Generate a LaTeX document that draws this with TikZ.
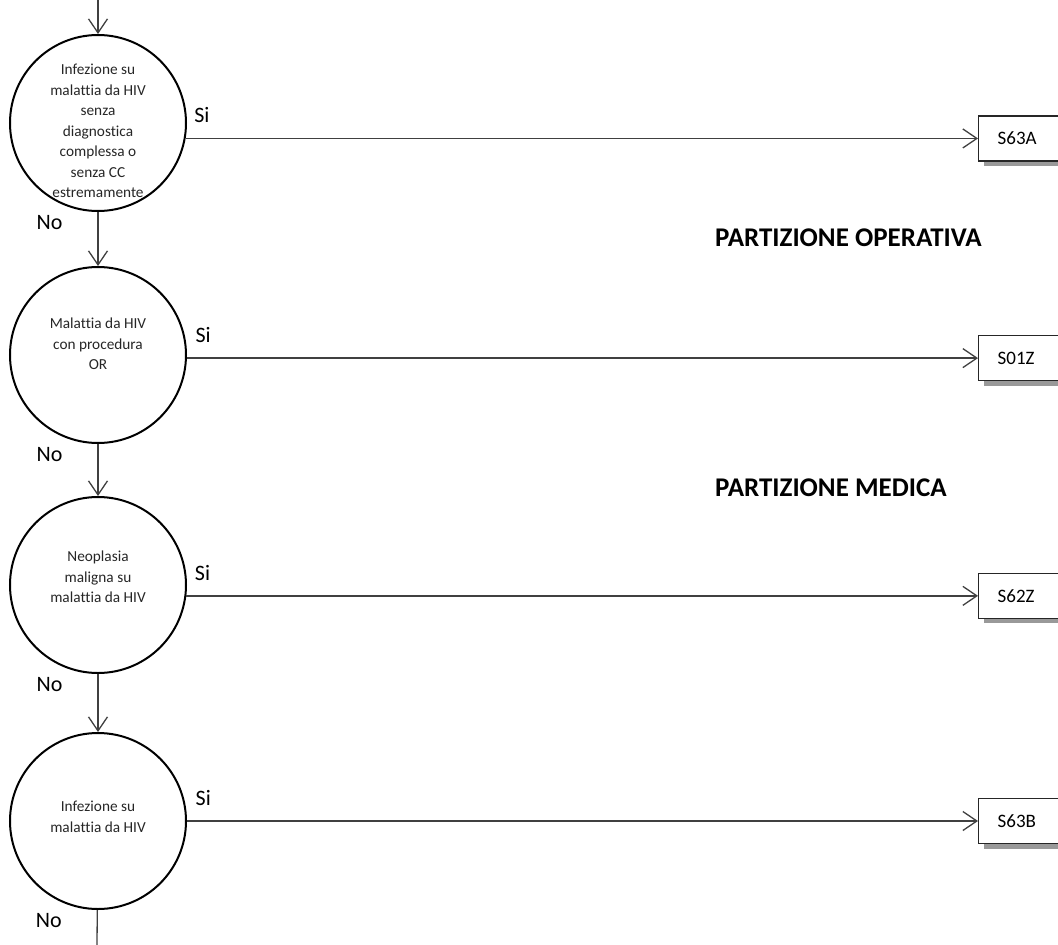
\documentclass[tikz,border=0pt]{standalone}
\usepackage{fontspec}
\setmainfont{Carlito}[Ligatures=NoCommon]
\usepackage{tikz}
\usetikzlibrary{arrows.meta, positioning, shadows}

\begin{document}
\begin{tikzpicture}[x=1pt, y=1pt, decision/.style={circle,draw=black,line width=2pt,minimum size=176pt,inner sep=0pt}, outcome/.style={rectangle,draw=black!85,line width=1.3pt,fill=white,minimum height=45pt,text width=70pt,inner xsep=19pt,align=left,anchor=west,font=\fontsize{19}{21}\selectfont,drop shadow={shadow xshift=5pt,shadow yshift=-5pt,fill=black!40,opacity=1}}, note/.style={align=center,font=\fontsize{15.3}{20.5}\selectfont,text=black!85}, si/.style={at start,anchor=south west,inner sep=0pt,xshift=8pt,yshift=15pt,font=\fontsize{22}{24}\selectfont}, no/.style={at start,anchor=north east,inner sep=0pt,xshift=-35pt,yshift=-3pt,font=\fontsize{22}{24}\selectfont}, part/.style={anchor=west,inner sep=0pt,font=\bfseries\fontsize{27}{30}\selectfont}, flow/.style={->,draw=black!75,line width=1.3pt}, link/.style={draw=black!75,line width=1.3pt}, >={Straight Barb[length=14pt,width=19pt]}, node distance=54pt]
        \useasboundingbox (0,0) rectangle (1058,-945);
        \coordinate (entry) at (98,0);
        \coordinate (xout) at (978,0);
        \coordinate (exit) at (97,-945);
        \node[decision] (c1) at (98,-123) {};
        \node[decision, below=of c1] (c2) {};
        \node[decision, below=52pt of c2] (c3) {};
        \node[decision, below=58pt of c3] (c4) {};
        \node[note] (t1) at ([yshift=-8pt]c1.center) {Infezione su\\malattia da HIV\\senza\\diagnostica\\complessa o\\senza CC\\estremamente};
        \node[note] (t2) at ([yshift=11pt]c2.center) {Malattia da HIV\\con procedura\\OR};
        \node[note] (t3) at ([yshift=8pt]c3.center) {Neoplasia\\maligna su\\malattia da HIV};
        \node[note] (t4) at ([yshift=4pt]c4.center) {Infezione su\\malattia da HIV};
        \node[outcome] (b1) at (c1.-10 -| xout) {S63A};
        \node[outcome] (b2) at (c2.-2 -| xout) {S01Z};
        \node[outcome] (b3) at (c3.-7 -| xout) {S62Z};
        \node[outcome] (b4) at (c4.east -| xout) {S63B};
        \node[part] (p1) at (715,-238) {PARTIZIONE OPERATIVA};
        \node[part] (p2) at (715,-488) {PARTIZIONE MEDICA};
        \path (entry) edge[flow] (c1);
        \path (c1) edge[flow] node[no] {No} (c2);
        \path (c2) edge[flow] node[no] {No} (c3);
        \path (c3) edge[flow] node[no] {No} (c4);
        \path (c4) edge[link] node[no] {No} (exit);
        \path (c1.-10) edge[flow] node[si] {Si} (b1);
        \path (c2.-2) edge[flow] node[si] {Si} (b2);
        \path (c3.-7) edge[flow] node[si] {Si} (b3);
        \path (c4.east) edge[flow] node[si] {Si} (b4);
    \end{tikzpicture}
\end{document}
